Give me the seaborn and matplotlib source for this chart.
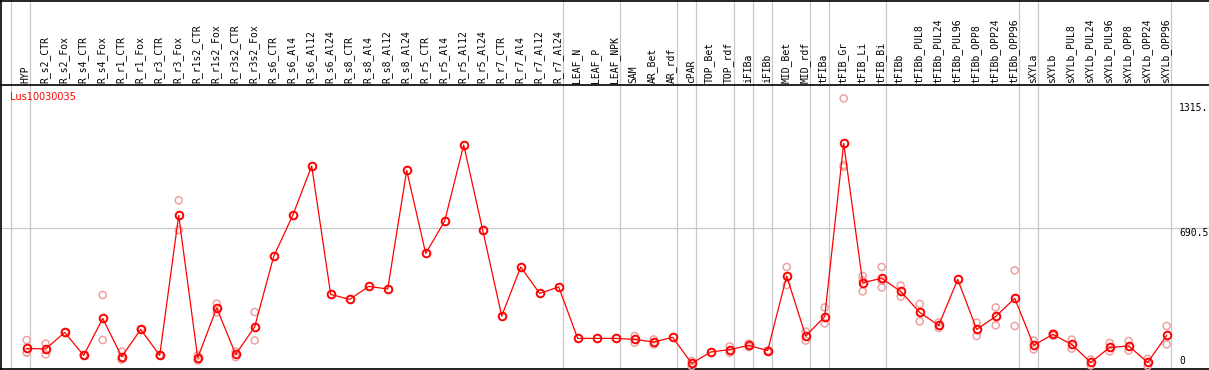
import numpy as np
import pandas as pd
import matplotlib
matplotlib.use("Agg")
import matplotlib.pyplot as plt
import seaborn as sns

categories = [
    "HYP", "R_s2_CTR", "R_s2_Fox", "R_s4_CTR", "R_s4_Fox", "R_r1_CTR", "R_r1_Fox",
    "R_r3_CTR", "R_r3_Fox", "R_r1s2_CTR", "R_r1s2_Fox", "R_r3s2_CTR", "R_r3s2_Fox",
    "R_s6_CTR", "R_s6_Al4", "R_s6_Al12", "R_s6_Al24", "R_s8_CTR", "R_s8_Al4",
    "R_s8_Al12", "R_s8_Al24", "R_r5_CTR", "R_r5_Al4", "R_r5_Al12", "R_r5_Al24",
    "R_r7_CTR", "R_r7_Al4", "R_r7_Al12", "R_r7_Al24", "LEAF_N", "LEAF_P", "LEAF_NPK",
    "SAM", "AR_Bet", "AR_rdf", "cPAR", "TOP_Bet", "TOP_rdf", "iFIBa", "iFIBb",
    "MID_Bet", "MID_rdf", "tFIBa", "tFIB_Gr", "tFIB_Li", "tFIB_Bi", "tFIBb",
    "tFIBb_PUL8", "tFIBb_PUL24", "tFIBb_PUL96", "tFIBb_OPP8", "tFIBb_OPP24",
    "tFIBb_OPP96", "sXYLa", "sXYLb", "sXYLb_PUL8", "sXYLb_PUL24", "sXYLb_PUL96",
    "sXYLb_OPP8", "sXYLb_OPP24", "sXYLb_OPP96",
]

# sizes of the sample groups separated by vertical lines
group_sizes = [1, 28, 3, 3, 1, 2, 1, 1, 2, 1, 3, 7, 1, 7]

means = [
    88, 85, 168, 53, 238, 46, 183, 53, 753, 41, 290, 58, 196,
    548, 753, 1000, 358, 333, 398, 385, 978, 563, 725, 1105, 680,
    250, 495, 363, 395, 138, 138, 138, 133, 120, 143, 13, 70, 82,
    103, 77, 450, 150, 247, 1113, 417, 438, 373, 268, 203, 433,
    183, 248, 338, 103, 158, 108, 18, 93, 100, 18, 153,
]

replicates = [
    [130, 67, 67], [112, 58], [168], [53, 53], [355, 130], [72, 33, 33], [183],
    [53, 53], [828, 680], [52, 27], [312, 268], [72, 44], [270, 128],
    [], [], [], [], [], [], [], [], [], [], [], [], [], [], [], [],
    [], [], [], [150, 116], [133, 107], [], [25, 0], [], [98, 66],
    [112, 95], [77, 72], [495, 405], [172, 127], [293, 213],
    [1338, 1005, 996], [450, 373, 428], [495, 393, 426], [402, 347],
    [310, 223], [218, 190], [], [217, 150], [293, 203], [478, 200],
    [127, 83], [163, 153], [132, 87], [33, 3], [115, 73], [125, 78],
    [36, 0], [200, 108],
]

ytick_values = [1315, 690.5, 0]
ytick_labels = ["1315.", "690.5", "0"]
gene = "Lus10030035"

df = pd.DataFrame({"idx": np.arange(len(categories)), "value": means})
rep_df = pd.DataFrame(
    [(i, v) for i, vals in enumerate(replicates) for v in vals],
    columns=["idx", "value"],
)

sns.set_style("white")
fig = plt.figure(figsize=(12.09, 3.70), dpi=100)
ax = fig.add_axes([0, 0, 1, 1])

# pixel helpers: column i sits at x = 26.7 + 19*i px, value v sits at y = 366 - v/5 px
def px_x(p):
    return (p - 26.7) / 19.0

def px_y(p):
    return 5.0 * (366 - p)

ax.set_xlim(px_x(0), px_x(1209))
ax.set_ylim(px_y(370), px_y(0))
for s in ax.spines.values():
    s.set_visible(False)
ax.set_xticks([])
ax.set_yticks([])

grid_c = "#c8c8c8"
bounds = [-1] + list(np.cumsum(group_sizes) - 1)
for b in bounds:
    ax.axvline(b + 0.2, color=grid_c, lw=0.9, zorder=1)
ax.axhline(ytick_values[1], color=grid_c, lw=0.9, zorder=1)

# frame lines
ax.axhline(px_y(0.5), color="black", lw=1.2, zorder=2)
ax.axhline(px_y(85), color="black", lw=1.2, zorder=2)
ax.axhline(px_y(369), color="black", lw=1.2, zorder=2)
ax.axvline(px_x(1.5), color="black", lw=1.2, zorder=2)

sns.scatterplot(data=rep_df, x="idx", y="value", ax=ax, marker="o", s=26,
                fc="none", ec="#f0a0a0", linewidth=1.1, zorder=3, legend=False)
sns.lineplot(data=df, x="idx", y="value", ax=ax, color="red", lw=0.9,
             estimator=None, sort=False, marker="o", markersize=5.5,
             markerfacecolor="none", markeredgecolor="red", markeredgewidth=1.4,
             zorder=4, legend=False)
ax.set_xlabel("")
ax.set_ylabel("")

for i, name in enumerate(categories):
    ax.text(i - 0.05, px_y(83), name, rotation=90, ha="center", va="bottom",
            family="DejaVu Sans Mono", fontsize=7, color="black")

ax.text(px_x(10), px_y(97.5), gene, ha="left", va="center",
        family="DejaVu Sans", fontsize=7, color="red")

for v, lab in zip(ytick_values, ytick_labels):
    ax.text(px_x(1179), v, lab, ha="left", va="bottom" if v == 0 else "top",
            family="DejaVu Sans Mono", fontsize=7, color="black")

fig.savefig("out.png", dpi=100)
